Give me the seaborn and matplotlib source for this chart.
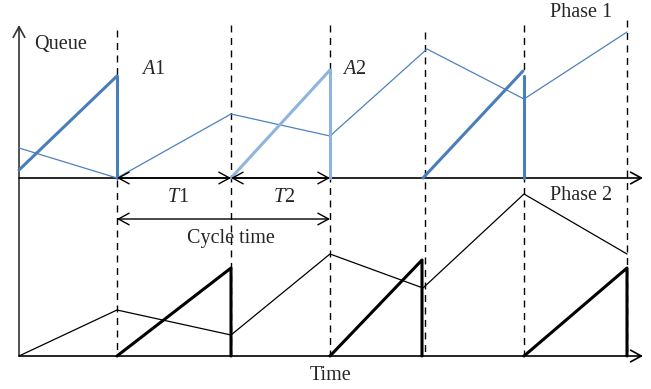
import pandas as pd
import matplotlib.pyplot as plt
import seaborn as sns

# --- DADOS (tempo no eixo x, fila medida acima da linha de base de cada fase) ---
# instantes de troca de sinal (linhas tracejadas)
switch_times = [117, 231, 330, 425, 524, 627]
switch_tops = [30, 25, 25, 32, 25, 20]

# Fase 1: fila (linha fina)
p1_t = [19, 117, 231, 330, 427, 524, 627]
p1_q = [30, 0, 64, 42, 129, 79, 146]

# Fase 1: rampas de acumulação (linha grossa) -> inicio, fim, altura inicial, altura final, queda
p1_ramp_t0 = [19, 231, 423]
p1_ramp_t1 = [117, 330, 523]
p1_ramp_q0 = [8, 0, 0]
p1_ramp_q1 = [102, 108, 107]
p1_drop_t = [117, 330, 524]
p1_drop_q = [102, 108, 102]
p1_ramp_shade = ["dark", "light", "dark"]

# Fase 2: fila (linha fina)
p2_t = [19, 117, 231, 330, 423, 524, 627]
p2_q = [0, 46, 21, 102, 68, 162, 102]

# Fase 2: rampas
p2_ramp_t0 = [117, 330, 524]
p2_ramp_t1 = [231, 422, 627]
p2_ramp_q1 = [88, 96, 88]

# --- LAYOUT ---
BASE1 = 178   # linha de base da fase 1 (px)
BASE2 = 356   # linha de base da fase 2 (px)
X0 = 19
X_END = 643

BLUE = "#4f81bd"
DARK_BLUE = "#4a7ebb"
LIGHT_BLUE = "#8fb4e0"

sns.set_theme(style="white")
plt.rcParams["font.family"] = ["Liberation Serif", "DejaVu Serif"]
plt.rcParams["mathtext.fontset"] = "custom"
plt.rcParams["mathtext.it"] = "Liberation Serif:italic"
plt.rcParams["mathtext.rm"] = "Liberation Serif"

fig = plt.figure(figsize=(6.51, 3.89), dpi=100)
ax = fig.add_axes([0, 0, 1, 1])
ax.set_xlim(0, 651)
ax.set_ylim(389, 0)
ax.axis("off")

# linhas tracejadas verticais
for t, top in zip(switch_times, switch_tops):
    ax.plot([t, t], [top, BASE2], color="black", lw=1.0, ls=(0, (5, 4)), zorder=1)

# eixos com setas
arrow_kw = dict(arrowstyle="->,head_length=0.55,head_width=0.3", lw=1.2,
                shrinkA=0, shrinkB=0, mutation_scale=14)
ax.annotate("", xy=(X0, 25), xytext=(X0, BASE2), arrowprops=dict(color="#333333", **arrow_kw))
ax.annotate("", xy=(X_END, BASE1), xytext=(X0, BASE1), arrowprops=dict(color="black", **arrow_kw))
ax.annotate("", xy=(X_END, BASE2), xytext=(X0, BASE2), arrowprops=dict(color="black", **arrow_kw))

# --- FASE 1 ---
df1 = pd.DataFrame({"t": p1_t, "y": [BASE1 - q for q in p1_q]})
sns.lineplot(data=df1, x="t", y="y", sort=False, estimator=None, color=BLUE, lw=0.9, ax=ax, zorder=3)

for t0, t1, q0, q1, td, qd, shade in zip(p1_ramp_t0, p1_ramp_t1, p1_ramp_q0, p1_ramp_q1,
                                         p1_drop_t, p1_drop_q, p1_ramp_shade):
    c = DARK_BLUE if shade == "dark" else LIGHT_BLUE
    ramp = pd.DataFrame({"t": [t0, t1], "y": [BASE1 - q0, BASE1 - q1]})
    sns.lineplot(data=ramp, x="t", y="y", sort=False, estimator=None, color=c, lw=2.2, ax=ax, zorder=4)
    ax.plot([td, td], [BASE1 - qd, BASE1], color=c, lw=2.2, zorder=4)

# --- FASE 2 ---
df2 = pd.DataFrame({"t": p2_t, "y": [BASE2 - q for q in p2_q]})
sns.lineplot(data=df2, x="t", y="y", sort=False, estimator=None, color="black", lw=0.9, ax=ax, zorder=3)

for t0, t1, q1 in zip(p2_ramp_t0, p2_ramp_t1, p2_ramp_q1):
    ramp = pd.DataFrame({"t": [t0, t1, t1], "y": [BASE2, BASE2 - q1, BASE2]})
    sns.lineplot(data=ramp, x="t", y="y", sort=False, estimator=None, color="black", lw=2.2, ax=ax, zorder=4)

# setas T1, T2 e tempo de ciclo
dbl = dict(arrowstyle="<->,head_length=0.55,head_width=0.3", lw=1.0, color="black",
           shrinkA=0, shrinkB=0, mutation_scale=14)
ax.annotate("", xy=(switch_times[0], BASE1), xytext=(switch_times[1], BASE1), arrowprops=dbl, zorder=5)
ax.annotate("", xy=(switch_times[1], BASE1), xytext=(switch_times[2], BASE1), arrowprops=dbl, zorder=5)
ax.annotate("", xy=(switch_times[0], 219), xytext=(switch_times[2], 219), arrowprops=dbl, zorder=5)

# --- TEXTOS ---
fs = 14.5
ax.text(61, 44, "Queue", fontsize=fs, ha="center", va="center")
ax.text(153, 69, r"$A1$", fontsize=fs, ha="center", va="center")
ax.text(354, 69, r"$A2$", fontsize=fs, ha="center", va="center")
ax.text(581, 12, "Phase 1", fontsize=fs, ha="center", va="center")
ax.text(581, 195, "Phase 2", fontsize=fs, ha="center", va="center")
ax.text(178, 197, r"$T1$", fontsize=fs, ha="center", va="center")
ax.text(284, 197, r"$T2$", fontsize=fs, ha="center", va="center")
ax.text(231, 238, "Cycle time", fontsize=fs, ha="center", va="center")
ax.text(331, 375, "Time", fontsize=fs, ha="center", va="center")

plt.savefig("out.png", dpi=100)
